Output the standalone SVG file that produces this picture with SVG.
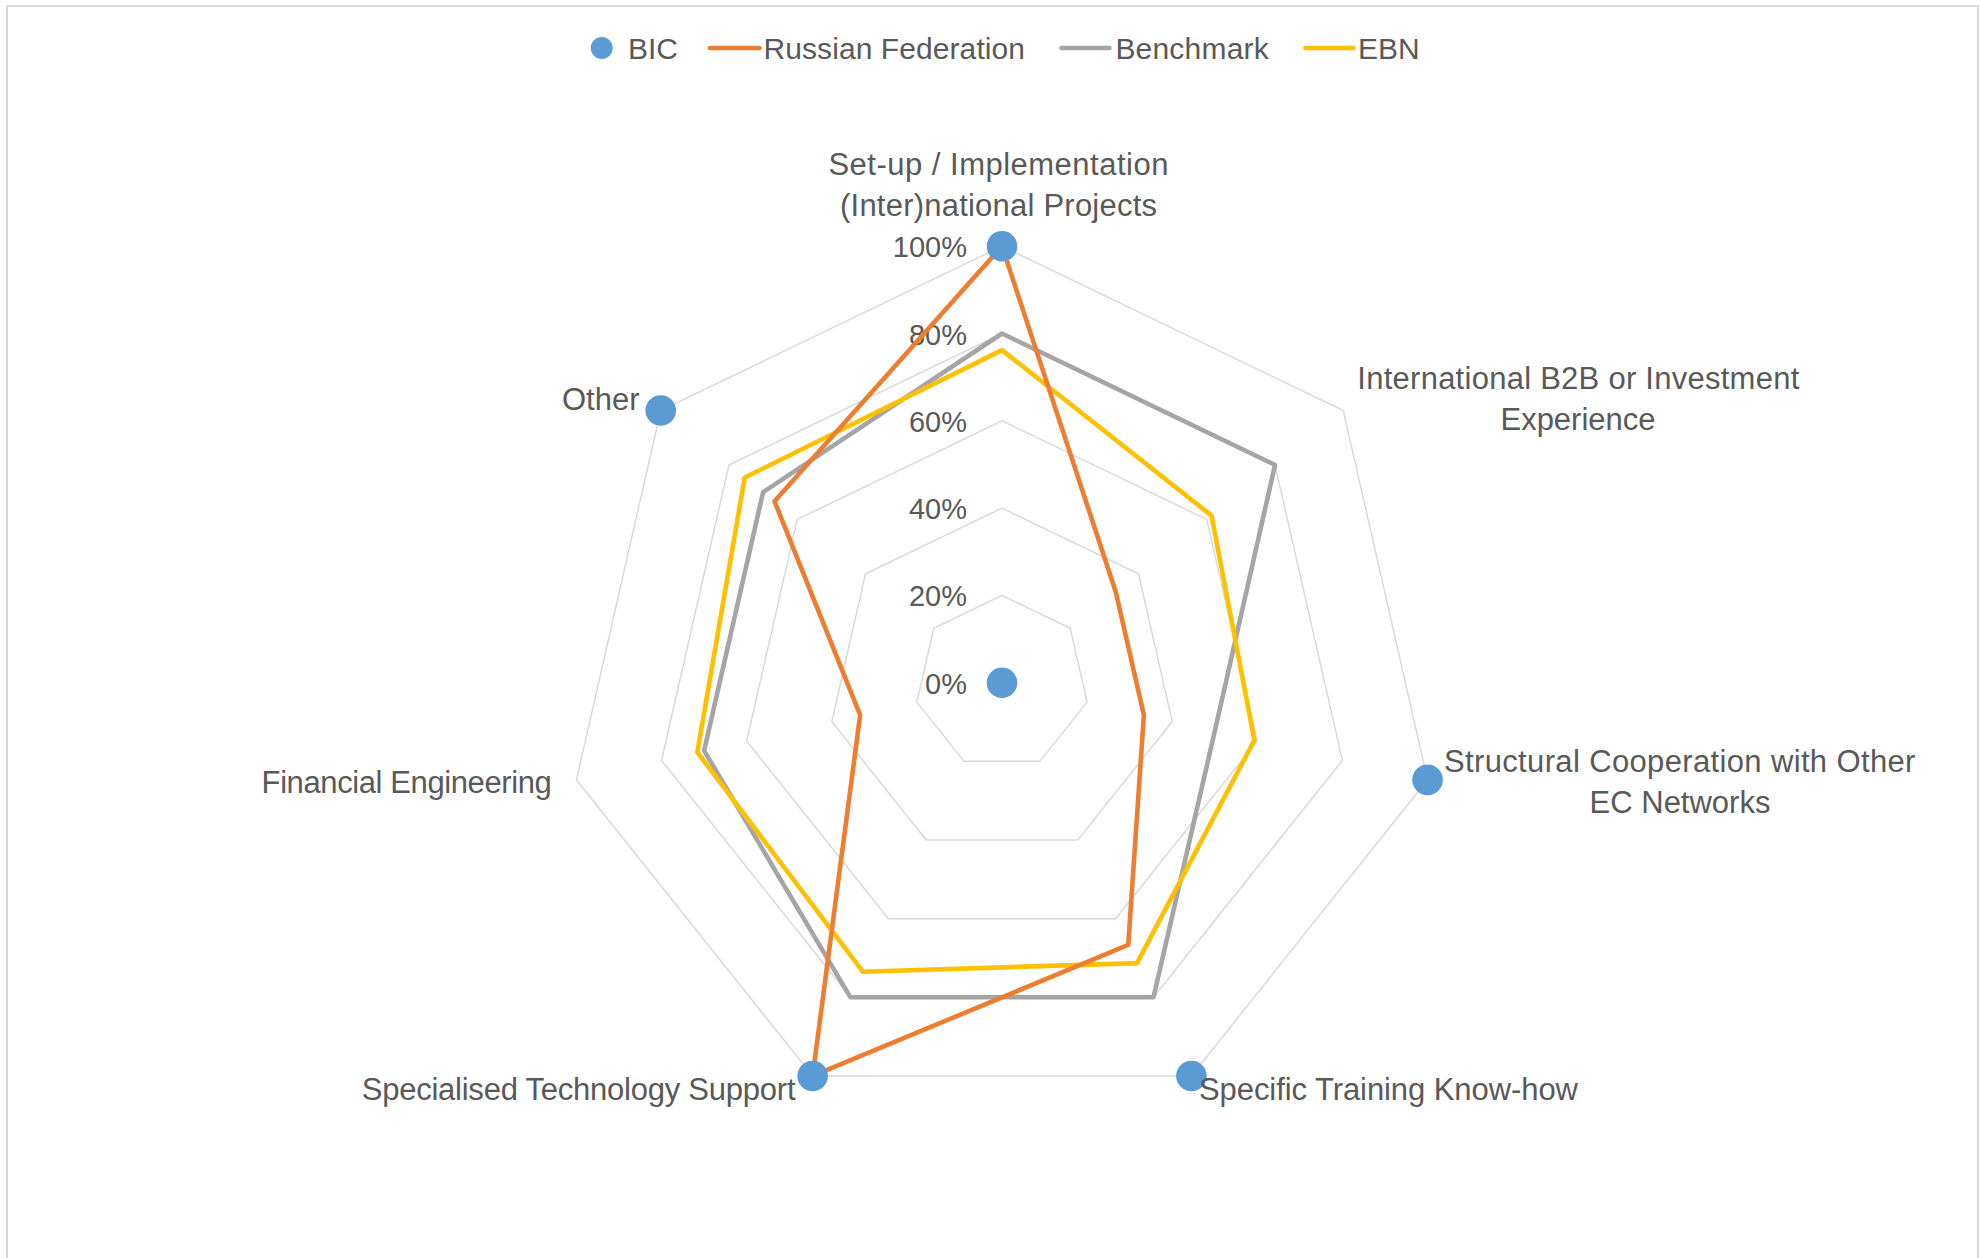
<svg xmlns="http://www.w3.org/2000/svg" width="1981" height="1258" viewBox="0 0 1981 1258">
<style>
text{font-family:"Liberation Sans",Arial,sans-serif;fill:#595959}
.ax{font-size:31px}
.tk{font-size:29px;text-anchor:end}
.lg{font-size:30px}
.grid{fill:none;stroke:#D9D9D9;stroke-width:1.5}
.ser{fill:none;stroke-width:4.6;stroke-linejoin:round;stroke-linecap:round}
.bic{fill:#5B9BD5}
</style>
<rect x="0" y="0" width="1981" height="1258" fill="#FFFFFF"/>
<rect x="7" y="6" width="1971" height="1270" fill="none" stroke="#D9D9D9" stroke-width="2"/>
<g id="grid">
<polygon class="grid" points="1002,246.2 1343.27,410.55 1427.56,779.83 1191.39,1075.97 812.61,1075.97 576.44,779.83 660.73,410.55"/>
<polygon class="grid" points="1002,333.5 1275.02,464.98 1342.45,760.4 1153.51,997.32 850.49,997.32 661.55,760.4 728.98,464.98"/>
<polygon class="grid" points="1002,420.8 1206.76,519.41 1257.33,740.98 1115.63,918.66 888.37,918.66 746.67,740.98 797.24,519.41"/>
<polygon class="grid" points="1002,508.1 1138.51,573.84 1172.22,721.55 1077.76,840.01 926.24,840.01 831.78,721.55 865.49,573.84"/>
<polygon class="grid" points="1002,595.4 1070.25,628.27 1087.11,702.13 1039.88,761.35 964.12,761.35 916.89,702.13 933.75,628.27"/>
</g>
<g id="tick-labels">
<text class="tk" x="967" y="257">100%</text>
<text class="tk" x="967" y="344.5">80%</text>
<text class="tk" x="967" y="431.5">60%</text>
<text class="tk" x="967" y="519">40%</text>
<text class="tk" x="967" y="606">20%</text>
<text class="tk" x="967" y="693.5">0%</text>
</g>
<g id="connectors">
<polygon id="series-benchmark" class="ser" stroke="#A5A5A5" points="1002,333.5 1275.02,464.98 1214.78,731.26 1153.51,997.32 850.49,997.32 704.11,750.69 763.11,492.19"/>
<polygon id="series-ebn" class="ser" stroke="#FFC000" points="1002,350.1 1211.53,515.6 1254.36,740.3 1137.03,963.08 862.81,971.73 697.33,752.24 744.7,477.51"/>
<polygon id="series-russia" class="ser" stroke="#ED7D31" points="1002,246.2 1115.76,591.98 1143.85,715.08 1128.26,944.88 812.61,1075.97 860.15,715.08 774.49,501.26"/>
</g>
<g id="series-bic">
<circle class="bic" cx="1002" cy="246.2" r="15.3"/>
<circle class="bic" cx="1002" cy="682.7" r="15.3"/>
<circle class="bic" cx="1427.56" cy="779.83" r="15.3"/>
<circle class="bic" cx="1191.39" cy="1075.97" r="15.3"/>
<circle class="bic" cx="812.61" cy="1075.97" r="15.3"/>
<circle class="bic" cx="660.73" cy="410.55" r="15.3"/>
</g>
<g id="axis-setup">
<text class="ax" x="828.4" y="175" textLength="340" lengthAdjust="spacing">Set-up / Implementation</text>
<text class="ax" x="840" y="215.5" textLength="317" lengthAdjust="spacing">(Inter)national Projects</text>
</g>
<g id="axis-b2b">
<text class="ax" x="1357.3" y="389" textLength="442" lengthAdjust="spacing">International B2B or Investment</text>
<text class="ax" x="1578" y="429.5" text-anchor="middle">Experience</text>
</g>
<g id="axis-structural">
<text class="ax" x="1444" y="772" textLength="471.4" lengthAdjust="spacing">Structural Cooperation with Other</text>
<text class="ax" x="1680" y="812.5" text-anchor="middle">EC Networks</text>
</g>
<g id="axis-training">
<text class="ax" x="1199" y="1099.5" textLength="379" lengthAdjust="spacing">Specific Training Know-how</text>
</g>
<g id="axis-specialised">
<text class="ax" x="361.7" y="1100" textLength="433.8" lengthAdjust="spacing">Specialised Technology Support</text>
</g>
<g id="axis-financial">
<text class="ax" x="261.6" y="792.5" textLength="290.2" lengthAdjust="spacing">Financial Engineering</text>
</g>
<g id="axis-other">
<text class="ax" x="639.5" y="410" text-anchor="end">Other</text>
</g>
<g id="legend">
<circle class="bic" cx="601.7" cy="48" r="11"/>
<text class="lg" x="628" y="58.5">BIC</text>
<line x1="710" y1="48" x2="759.5" y2="48" stroke="#ED7D31" stroke-width="4.6" stroke-linecap="round"/>
<text class="lg" x="763.5" y="58.5" textLength="261.5" lengthAdjust="spacing">Russian Federation</text>
<line x1="1061.5" y1="48" x2="1109.5" y2="48" stroke="#A5A5A5" stroke-width="4.6" stroke-linecap="round"/>
<text class="lg" x="1115.4" y="58.5" textLength="153.3" lengthAdjust="spacing">Benchmark</text>
<line x1="1305.5" y1="48" x2="1353.5" y2="48" stroke="#FFC000" stroke-width="4.6" stroke-linecap="round"/>
<text class="lg" x="1358" y="58.5">EBN</text>
</g>
</svg>
